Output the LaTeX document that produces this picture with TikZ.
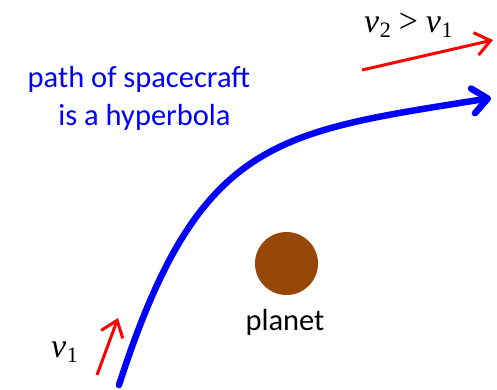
\documentclass[tikz,border=0pt]{standalone}
\usepackage{fontspec}
\setmainfont{Carlito}
\newfontfamily\tmsfont{Liberation Serif}
\usetikzlibrary{arrows.meta}
\definecolor{planetbrown}{RGB}{151,71,8}
\definecolor{pathblue}{RGB}{0,0,255}
\newcommand{\velsym}[1]{{\tmsfont\itshape v}\kern0.5bp\raisebox{-5bp}{\fontsize{22bp}{22bp}\selectfont\tmsfont #1}}
\tikzset{
  lbl/.style={inner sep=0pt, anchor=base, font=\fontsize{30.5bp}{38bp}\selectfont},
  mathlbl/.style={inner sep=0pt, anchor=base west, font=\fontsize{34bp}{38bp}\selectfont\tmsfont},
  velarrow/.style={draw=red, line width=3bp, -{Straight Barb[length=15bp,width=23bp]}},
  patharrow/.style={draw=pathblue, line width=6.5bp, line cap=round, -{Straight Barb[length=15bp,width=25bp,round]}}
}
\begin{document}
\begin{tikzpicture}[x=1bp,y=-1bp]
\useasboundingbox (0,0) rectangle (497,389);
% path of spacecraft
\coordinate (ps) at (119,385);
\coordinate (pe) at (491,98);
\draw[patharrow] (ps) .. controls (199,137) and (276,132.4) .. (pe);
% planet
\fill[planetbrown] (286.5,263.5) circle (31.5);
\node[lbl] (planet) at (285,330) {planet};
% labels
\node[lbl, text=pathblue] (l1) at (139,87) {path of spacecraft};
\node[lbl, text=pathblue] (l2) at (144.5,125) {is a hyperbola};
% velocity arrows
\coordinate (t1) at (97,375);
\coordinate (h1) at (118,318);
\draw[velarrow] (t1) -- (h1);
\coordinate (t2) at (362,70);
\coordinate (h2) at (493,40);
\draw[velarrow] (t2) -- (h2);
\node[mathlbl] (v1) at (51,357) {\velsym{1}};
\node[mathlbl] (v2) at (364,32) {\velsym{2}\kern8bp>\kern8bp\velsym{1}};
\end{tikzpicture}
\end{document}
